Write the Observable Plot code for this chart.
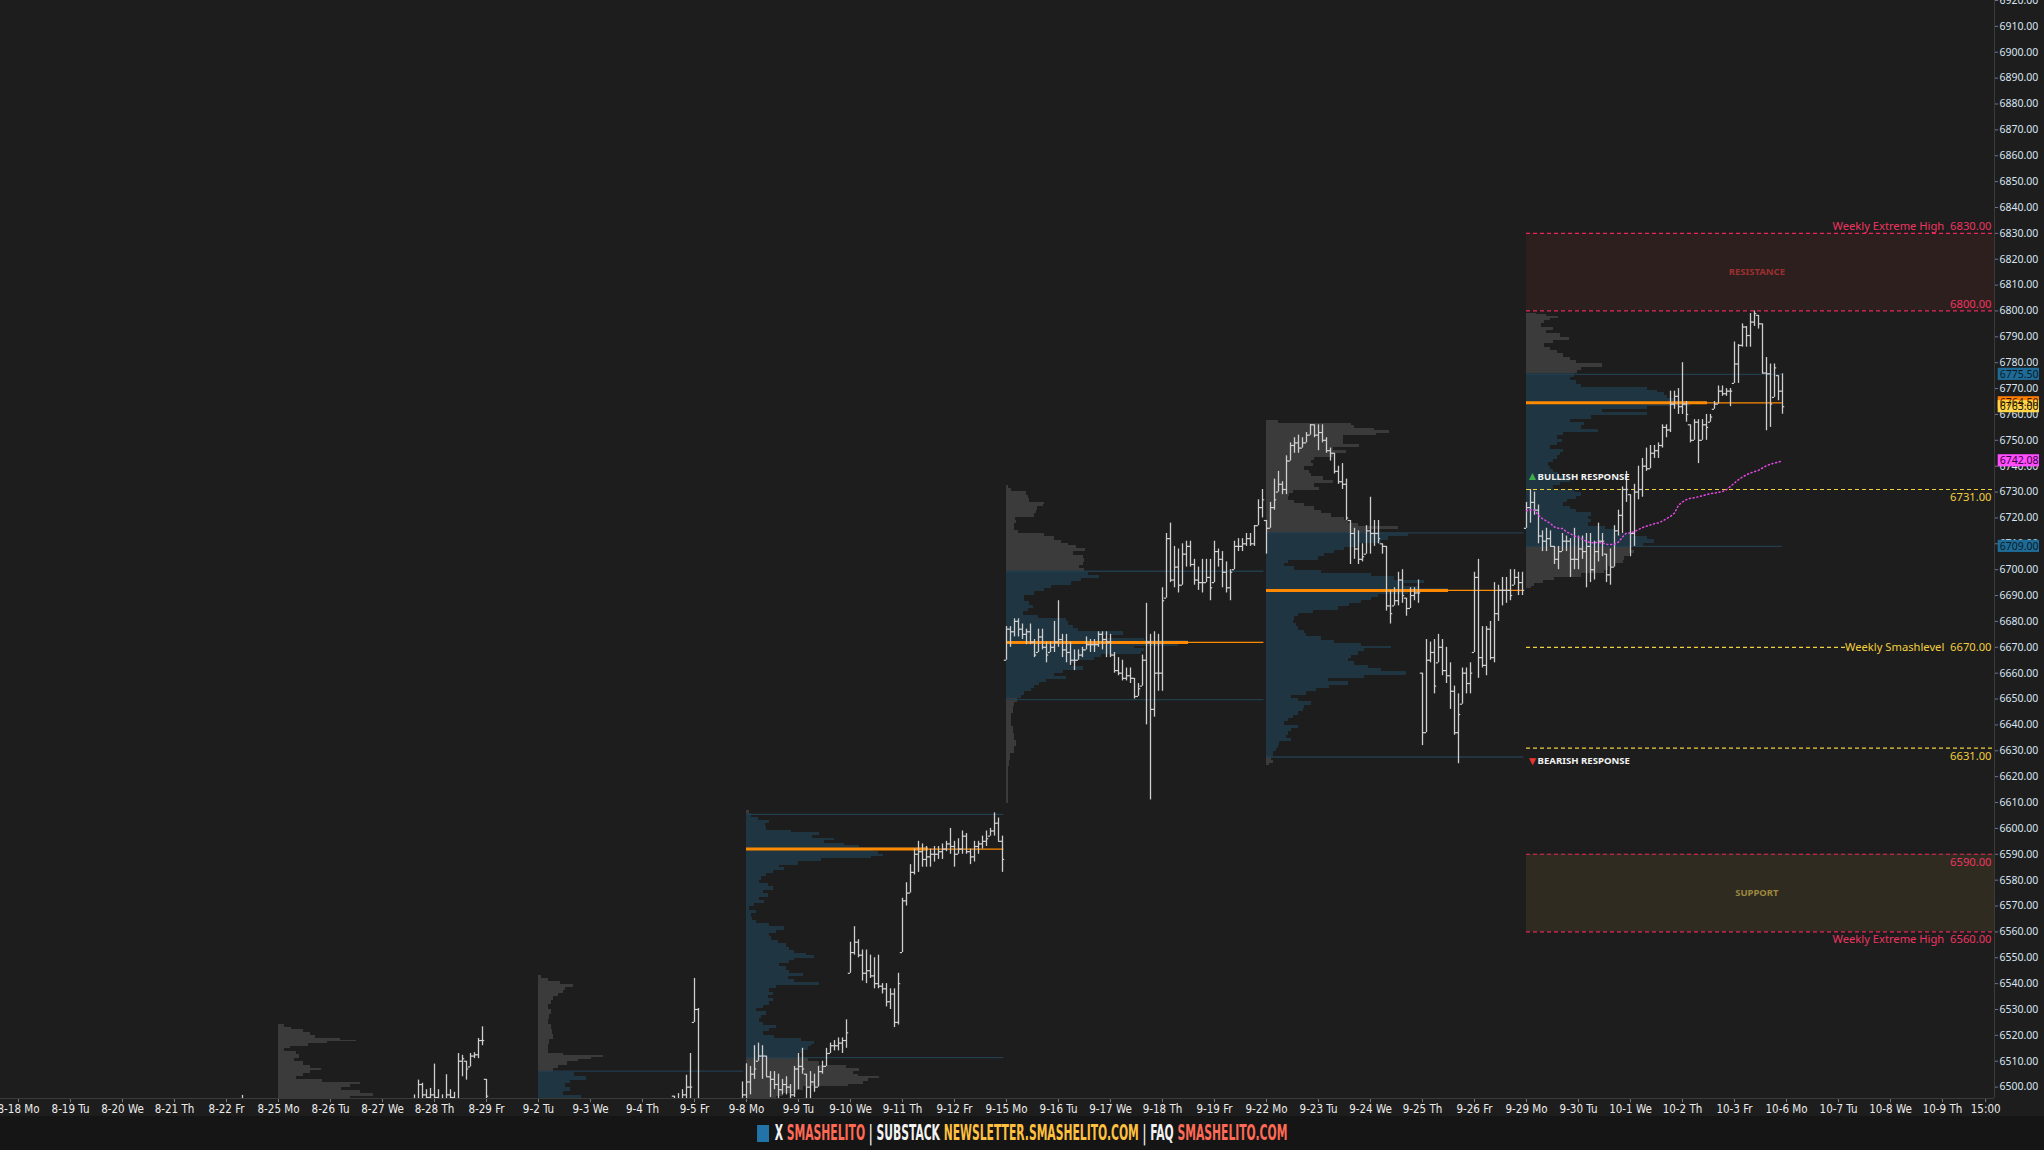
<!DOCTYPE html>
<html><head><meta charset="utf-8">
<script src="https://cdn.jsdelivr.net/npm/d3@7"></script>
<script src="https://cdn.jsdelivr.net/npm/@observablehq/plot@0.6"></script>
<style>
html,body{margin:0;padding:0;background:#1d1d1d;width:2044px;height:1150px;overflow:hidden;}
#chart svg{display:block}
#footer{height:34px;background:#151515;display:flex;align-items:center;justify-content:center;}
#footer .in{display:inline-block;transform:scaleX(0.57);transform-origin:center;white-space:nowrap;
 font-family:"DejaVu Sans Condensed","Liberation Sans Narrow","DejaVu Sans",sans-serif;font-stretch:condensed;font-weight:bold;font-size:21px;letter-spacing:0px;}
#footer .sq{display:inline-block;width:21px;height:17px;background:#2274a8;vertical-align:-2px;margin-right:10px}
#footer .w{color:#f2f2f2}#footer .r{color:#ff6a55}#footer .y{color:#ffc040}
</style></head><body>
<div id="chart"></div>
<div id="footer"><span class="in"><span class="sq"></span><span class="w">X</span> <span class="r">SMASHELITO</span> <span class="w">|</span> <span class="w">SUBSTACK</span> <span class="y">NEWSLETTER.SMASHELITO.COM</span> <span class="w">|</span> <span class="w">FAQ</span> <span class="r">SMASHELITO.COM</span></span></div>
<script>
// ---------------- DATA ----------------
const dayLabels = ["8-18 Mo","8-19 Tu","8-20 We","8-21 Th","8-22 Fr","8-25 Mo","8-26 Tu","8-27 We","8-28 Th","8-29 Fr","9-2 Tu","9-3 We","9-4 Th","9-5 Fr","9-8 Mo","9-9 Tu","9-10 We","9-11 Th","9-12 Fr","9-15 Mo","9-16 Tu","9-17 We","9-18 Th","9-19 Fr","9-22 Mo","9-23 Tu","9-24 We","9-25 Th","9-26 Fr","9-29 Mo","9-30 Tu","10-1 We","10-2 Th","10-3 Fr","10-6 Mo","10-7 Tu","10-8 We","10-9 Th"];
const lastTickLabel = "15:00";
const lastTickPos = 37.83;
const priceTicks = d3.range(6500, 6921, 10);

// early visible 30-min bars: [day, slot, high, low, close]
const barsEarly = [
 [4,4,6496.8,6488,6493],
 [7,8,6497,6488,6494],[7,9,6502.7,6490,6501],[7,10,6501.5,6492,6497],[7,11,6499,6490,6496],[7,12,6499.5,6491,6497],
 [8,0,6508.9,6489,6496],[8,1,6499,6490,6494],[8,2,6497,6489,6494],[8,3,6504.8,6490,6497],[8,4,6499,6491,6496],[8,5,6498,6490,6495],
 [8,6,6513,6492,6510],[8,7,6512.3,6504,6511],[8,8,6510,6502.7,6507],[8,9,6513,6507.8,6512],[8,10,6513.3,6511,6512.5],[8,11,6518.8,6511,6518],[8,12,6523.3,6516,6518],
 [9,0,6503,6490,6496.5],
 [12,8,6496.5,6488,6494],[12,9,6497.5,6489,6495],[12,10,6499,6490,6497],[12,11,6504.6,6491,6500],[12,12,6513,6493,6500],
 [13,0,6542,6525,6530],[13,1,6530.4,6480,6490],[13,12,6502,6490,6497]
];
// weekly bars [high, low, close], 13 per session
const barsWeek0908 = [
 [6509,6494,6502],[6508,6497,6505],[6516,6503,6507],[6517,6510,6512],[6516,6503,6512],[6512,6504,6504],[6506,6496,6503],[6506,6499,6501],[6505,6495,6499],[6503,6497,6501],[6504,6497,6500],[6501,6494,6497],[6508,6496,6507],
 [6513,6499,6508],[6515,6505,6507],[6505,6494,6500],[6506,6494,6502],[6505,6498,6500],[6508,6500,6506],[6510,6505,6508],[6515,6508,6513],[6517,6513,6516],[6518,6514,6516],[6519,6514,6517],[6519,6513,6518],[6526,6515,6521],
 [6556,6544,6552],[6562,6551,6556],[6557,6550,6551],[6553,6541,6544],[6553,6540,6545],[6551,6542,6543],[6550,6538,6540],[6551,6538,6539],[6540,6536,6538],[6540,6531,6533],[6538,6530,6536],[6538,6523,6525],[6544,6524,6540],
 [6573,6552,6572],[6579,6570,6575],[6586,6575,6583],[6592,6582,6590],[6595,6583,6591],[6594,6585,6588],[6593,6585,6589],[6592,6585,6590],[6593,6587,6590],[6593,6588,6591],[6594,6588,6592],[6595,6591,6594],[6600,6590,6593],
 [6595,6585,6590],[6596,6590,6592],[6599,6590,6597],[6598,6590,6591],[6592,6586,6589],[6595,6587,6593],[6595,6590,6594],[6597,6592,6595],[6599,6593,6596],[6600,6597,6599],[6606,6597,6602],[6604,6595,6595],[6597,6583,6588]
];
const barsWeek0915 = [
 [6678,6665,6677],[6678,6670,6676],[6681,6674,6680],[6681,6674,6677],[6679,6673,6675],[6677,6671,6676],[6679,6671,6672],[6673,6666,6667],[6677,6668,6674],[6677,6669,6670],[6672,6664,6667],[6672,6668,6670],[6680,6668,6672],
 [6688,6670,6673],[6675,6666,6669],[6675,6664,6668],[6672,6663,6665],[6669,6661,6665],[6669,6665,6667],[6670,6666,6669],[6674,6669,6671],[6673,6668,6671],[6673,6668,6671],[6676,6670,6675],[6676,6669,6673],[6676,6666,6672],
 [6675,6666,6667],[6668,6660,6661],[6666,6659,6660],[6665,6657,6658],[6662,6657,6659],[6662,6656,6658],[6658,6650,6651],[6656,6651,6654],[6667,6655,6665],[6687,6640,6672],[6675,6611,6646],[6676,6643,6660],[6675,6653,6660],
 [6693,6653,6688],[6714,6689,6712],[6718,6695,6696],[6709,6693,6701],[6708,6691,6694],[6710,6694,6706],[6711,6701,6709],[6711,6701,6702],[6704,6694,6696],[6701,6692,6695],[6704,6691,6695],[6704,6695,6697],[6704,6688,6693],
 [6711,6695,6707],[6708,6701,6704],[6707,6693,6699],[6703,6691,6693],[6700,6688,6699],[6711,6700,6709],[6712,6707,6709],[6712,6707,6710],[6714,6709,6712],[6714,6709,6710],[6717,6709,6717],[6727,6717,6724],[6731,6720,6727]
];
const barsWeek0922 = [
 [6719,6706,6716],[6726,6716,6724],[6735,6723,6727],[6738,6730,6733],[6734,6729,6731],[6744,6729,6742],[6749,6742,6748],[6751,6745,6749],[6752,6745,6747],[6751,6747,6749],[6753,6749,6752],[6756,6752,6756],[6756,6751,6752],
 [6756,6746,6753],[6756,6749,6750],[6751,6745,6746],[6747,6742,6745],[6745,6737,6738],[6740,6733,6734],[6741,6731,6733],[6735,6719,6720],[6719,6702,6714],[6716,6704,6708],[6715,6702,6704],[6710,6703,6705],[6717,6706,6715],
 [6728,6706,6714],[6719,6709,6714],[6719,6710,6712],[6710,6706,6709],[6709,6684,6686],[6692,6679,6683],[6693,6686,6688],[6699,6686,6696],[6700,6687,6690],[6689,6682,6685],[6693,6685,6690],[6693,6688,6691],[6696,6687,6691],
 [6660,6632,6637],[6673,6637,6665],[6672,6664,6668],[6673,6652,6655],[6675,6664,6670],[6673,6659,6661],[6670,6656,6659],[6664,6646,6653],[6655,6636,6637],[6652,6625,6644],[6662,6648,6660],[6662,6652,6656],[6664,6652,6660],
 [6699,6668,6697],[6704,6658,6666],[6678,6662,6663],[6678,6659,6677],[6680,6665,6666],[6695,6664,6683],[6694,6680,6692],[6697,6686,6692],[6697,6687,6692],[6700,6688,6690],[6700,6694,6697],[6699,6690,6695],[6699,6690,6692]
];
const barsWeek0929 = [
 [6726,6716,6724],[6731,6718,6726],[6730,6721,6723],[6725,6710,6713],[6715,6707,6711],[6716,6707,6712],[6715,6709,6709],[6709,6702,6704],[6709,6700,6707],[6714,6707,6711],[6713,6707,6711],[6712,6697,6704],[6716,6700,6704],
 [6713,6700,6708],[6713,6704,6707],[6714,6693,6709],[6714,6695,6700],[6711,6696,6707],[6718,6703,6711],[6714,6705,6711],[6706,6695,6698],[6708,6694,6701],[6717,6701,6715],[6723,6713,6721],[6732,6714,6731],[6738,6726,6731],
 [6729,6705,6714],[6733,6709,6730],[6740,6727,6731],[6743,6728,6740],[6747,6738,6739],[6748,6739,6745],[6748,6743,6746],[6749,6743,6748],[6756,6747,6755],[6756,6751,6754],[6769,6753,6764],[6769,6762,6767],[6770,6760,6763],
 [6780,6760,6764],[6765,6757,6760],[6756,6749,6750],[6758,6750,6757],[6758,6741,6750],[6758,6750,6756],[6760,6750,6755],[6760,6757,6759],[6765,6762,6764],[6771,6764,6769],[6771,6767,6768],[6770,6767,6769],[6770,6763,6769],
 [6788,6772,6779.5],[6787,6772,6786.7],[6795,6786,6793.8],[6794,6786,6790.5],[6799,6786,6795.7],[6800,6794,6799],[6798.3,6793,6795],[6795,6775.7,6776],[6782,6753.7,6775.7],[6779.5,6755,6764],[6779.5,6766.6,6778],[6775,6765.3,6769],[6775.7,6760.1,6763]
];
const weekStartDays = [14, 19, 24, 29];

// weekly volume profiles: [price, relative volume]
const profile0825 = [[6523.6,6],[6522.6,13],[6521.7,25],[6520.5,32],[6519.4,37],[6518.5,62],[6517.9,78],[6517.3,49],[6516.2,30],[6515.3,12],[6514.3,6],[6513.2,18],[6511.7,21],[6510.4,16],[6509.1,25],[6507.8,32],[6506.8,43],[6505.9,32],[6504.6,25],[6503.3,18],[6502.4,44],[6501.4,82],[6500.4,72],[6499.5,63],[6498.2,82],[6496.9,95],[6496.0,72],[6494.5,60]];
const profile0902 = [[6542.6,3],[6541.3,10],[6540.0,22],[6539.0,35],[6538.1,27],[6536.8,25],[6535.5,20],[6534.3,15],[6533.0,13],[6531.0,10],[6529.1,13],[6527.2,11],[6525.2,10],[6523.3,13],[6521.4,14],[6519.4,15],[6517.5,11],[6515.5,10],[6513.6,9.5],[6512.4,25],[6511.7,65],[6511.1,53],[6510.4,40],[6509.1,29],[6507.8,20],[6506.6,15],[6504.6,36],[6503.3,48],[6502.0,32],[6500.7,27],[6498.8,32],[6497.5,25],[6496.2,43],[6494.8,40]];
const profile0908 = [[6606.3,2.7],[6605.0,5],[6603.8,11.7],[6602.5,22.7],[6601.2,19.3],[6599.9,20],[6598.6,45],[6598.0,73],[6596.7,66],[6595.6,88],[6594.7,78],[6593.8,98],[6593.1,113],[6592.0,182],[6591.3,126],[6590.5,132],[6589.6,137],[6588.7,125],[6587.7,75],[6586.4,52],[6585.3,33],[6584.4,38],[6583.1,27],[6581.9,20],[6580.6,15],[6579.3,13],[6578.0,22],[6576.7,27],[6575.4,17],[6574.1,22],[6572.8,13],[6571.6,18],[6570.3,8],[6569.0,3],[6567.7,10],[6566.4,5],[6565.1,6],[6563.8,10],[6562.5,23],[6561.3,38],[6560.0,30],[6558.7,23],[6557.4,25],[6556.1,32],[6554.8,40],[6553.5,43],[6552.2,48],[6551.3,60],[6550.3,68],[6549.3,48],[6548.4,43],[6547.1,33],[6545.8,40],[6544.5,43],[6543.2,57],[6542.3,42],[6541.0,48],[6539.7,73],[6538.7,30],[6537.4,23],[6536.1,27],[6534.8,22],[6533.6,27],[6532.3,23],[6531.0,17],[6529.7,10],[6528.4,20],[6527.1,15],[6525.8,13],[6524.5,17],[6523.3,30],[6522.0,23],[6520.7,17],[6519.4,28],[6518.1,55],[6517.1,68],[6516.2,65],[6514.9,62],[6513.6,57],[6512.3,52],[6510.4,62],[6509.1,73],[6507.8,100],[6506.5,113],[6505.5,107],[6504.6,112],[6503.7,133],[6502.7,122],[6501.6,117],[6500.7,102],[6499.4,57],[6498.1,50],[6496.8,37],[6495.6,30]];
const profile0915 = [[6732.0,1.7],[6730.7,5],[6729.4,20],[6728.1,22],[6726.8,23],[6725.5,38],[6724.9,37],[6723.6,31],[6722.3,30],[6721.0,28],[6719.7,9],[6718.4,10],[6717.1,8],[6715.9,8],[6714.6,12],[6713.3,38],[6712.0,48],[6710.7,55],[6709.8,62],[6708.8,70],[6707.5,79],[6706.2,67],[6704.9,77],[6703.6,78],[6702.3,77],[6701.0,73],[6699.8,78],[6698.5,82],[6697.2,93],[6695.9,75],[6694.6,65],[6693.3,45],[6692.0,38],[6690.8,28],[6689.5,18],[6688.2,18],[6686.9,23],[6685.6,27],[6684.3,22],[6683.0,17],[6681.7,32],[6680.4,60],[6679.2,62],[6677.9,67],[6676.6,72],[6675.3,117],[6674.0,97],[6673.0,138],[6671.9,182],[6670.9,172],[6669.9,128],[6668.8,138],[6667.8,135],[6666.8,95],[6665.6,88],[6664.3,70],[6663.1,65],[6661.8,77],[6660.5,57],[6659.2,48],[6657.9,60],[6657.0,40],[6656.0,33],[6654.7,28],[6653.4,25],[6652.1,18],[6650.8,15],[6649.5,11],[6648.2,8],[6645.7,7],[6643.1,5],[6640.5,5],[6637.9,7],[6635.4,8],[6632.8,10],[6630.2,8],[6627.6,4],[6625.1,3],[6622.5,2],[6617.3,2],[6612.2,2]];
const profile0922 = [[6757.1,12],[6756.2,85],[6755.2,88],[6754.1,108],[6753.2,123],[6752.3,110],[6751.3,77],[6750.0,77],[6748.7,77],[6747.7,93],[6746.4,67],[6745.5,80],[6744.2,67],[6742.9,48],[6741.6,45],[6740.3,47],[6739.1,38],[6737.8,43],[6736.5,45],[6735.2,57],[6733.9,67],[6732.6,48],[6731.3,53],[6730.0,27],[6728.8,23],[6727.5,22],[6726.2,28],[6724.9,38],[6723.6,48],[6722.3,55],[6721.0,65],[6719.7,78],[6718.5,82],[6717.2,92],[6715.9,132],[6715.0,102],[6713.3,142],[6712.0,122],[6710.7,115],[6709.4,92],[6708.1,78],[6706.9,68],[6705.6,58],[6704.3,52],[6703.0,22],[6701.7,18],[6700.4,28],[6699.1,55],[6697.8,105],[6696.6,128],[6695.3,158],[6694.0,138],[6693.1,152],[6692.0,182],[6691.0,142],[6690.0,112],[6688.8,105],[6687.5,95],[6686.3,83],[6685.0,72],[6683.7,47],[6682.4,32],[6681.1,28],[6679.8,27],[6678.5,30],[6677.2,32],[6675.9,38],[6674.7,40],[6673.4,55],[6672.1,68],[6670.8,95],[6669.9,125],[6668.9,98],[6667.6,92],[6666.3,85],[6665.0,82],[6663.7,88],[6662.4,102],[6661.1,115],[6659.9,140],[6658.6,98],[6657.3,62],[6656.0,82],[6654.7,63],[6653.4,50],[6652.1,40],[6650.8,25],[6649.5,32],[6648.3,45],[6647.0,38],[6645.7,37],[6644.4,32],[6643.1,27],[6641.8,22],[6640.5,18],[6639.2,32],[6638.0,25],[6636.7,22],[6635.4,20],[6634.1,25],[6632.8,13],[6631.5,12],[6630.2,10],[6628.9,7],[6627.0,5],[6625.7,7],[6624.8,3]];
const profile0929 = [[6798.9,10],[6798.3,20],[6797.7,32],[6796.6,24],[6795.7,18],[6794.4,15],[6793.1,27],[6791.8,20],[6790.5,34],[6789.2,43],[6787.9,27],[6786.7,18],[6785.4,24],[6784.1,31],[6782.8,37],[6781.5,44],[6780.2,50],[6778.9,76],[6777.6,55],[6776.3,51],[6775.0,48],[6773.7,44],[6772.4,50],[6771.1,55],[6769.8,121],[6768.9,131],[6767.9,138],[6766.6,141],[6765.5,150],[6764.5,181],[6763.4,164],[6762.5,121],[6761.4,76],[6760.1,121],[6758.8,65],[6757.5,44],[6756.2,58],[6755.0,55],[6753.7,72],[6752.4,37],[6751.1,31],[6749.8,36],[6748.5,31],[6747.2,24],[6745.9,37],[6744.6,34],[6743.3,31],[6742.0,27],[6740.7,22],[6739.4,24],[6738.1,27],[6736.8,32],[6735.5,48],[6734.2,44],[6733.0,34],[6731.7,27],[6730.4,48],[6729.1,55],[6727.8,50],[6726.5,41],[6725.2,37],[6723.9,44],[6722.6,50],[6721.3,65],[6720.0,62],[6718.7,65],[6717.4,62],[6716.1,79],[6714.8,89],[6713.5,107],[6712.2,121],[6710.9,128],[6709.6,117],[6708.1,105],[6706.8,108],[6705.6,103],[6704.3,98],[6703.0,97],[6701.7,88],[6700.4,82],[6699.1,78],[6697.8,55],[6696.5,28],[6695.3,17],[6694.0,8],[6693.1,5]];
const profileStartDays = [5, 10, 14, 19, 24, 29];
const profileEndDays = [9.95, 13.95, 18.95, 23.95, 28.95, 33.92];
const valueAreaHigh = [null, 6506.2, 6605.4, 6699.4, 6714.2, 6775.5];
const valueAreaLow = [null, null, 6511.4, 6649.8, 6627.6, 6709.0];
const pointOfControl = [null, null, 6592.0, 6671.9, 6692.0, 6764.5];

// weekly VWAP of the current week (one value per bar)
const vwapWeek0929 = [6722.7,6723.2,6723.0,6721.0,6719.7,6718.8,6717.8,6716.5,6716.0,6715.9,6714.6,6713.9,6713.0,
 6712.6,6711.7,6711.0,6710.4,6710.4,6710.6,6710.3,6709.8,6709.7,6709.8,6710.7,6712.6,6714.2,
 6714.2,6714.7,6715.5,6716.3,6716.8,6717.3,6717.8,6718.1,6718.8,6719.7,6720.6,6721.9,6724.9,
 6726.2,6727.1,6727.6,6727.8,6728.2,6728.6,6729.0,6729.4,6729.6,6729.9,6730.2,6730.9,6732.2,
 6733.5,6734.8,6735.8,6736.7,6737.4,6737.9,6738.4,6739.3,6740.2,6740.8,6741.2,6741.6,6742.1];

// weekly levels
const levelPrices = [6830, 6800, 6731, 6670, 6631, 6590, 6560];
const levelNames = ["Weekly Extreme High", "", "", "Weekly Smashlevel", "", "", "Weekly Extreme High"];
const levelKinds = ["extreme", "extreme", "response", "smash", "response", "extreme", "extreme"];
const levelLabelSide = ["above", "above", "below", "center", "below", "below", "below"];
const zoneNames = ["RESISTANCE", "SUPPORT"];
const zoneLow = [6800, 6560];
const zoneHigh = [6830, 6590];
const levelsStartDay = 29;
const responseNames = ["BULLISH RESPONSE", "BEARISH RESPONSE"];
const responsePrices = [6736, 6626];

// price tags on the right axis
const tagPrices = [6775.5, 6764.5, 6763.0, 6742.08, 6709.0];
const tagKinds = ["va", "poc", "last", "vwap", "va"];

// ---------------- BUILD ----------------
const W = 2044, H = 1116;
const xMin = -18/52, xMax = 1976/52;
const yMin = 6495.6, yMax = 6920;
const pxDay = 52;

const C = {
  bg: "#1d1d1d", bar: "#cfcfcf", gray: "#3b3b3b", blue: "#1f3541", vaLine: "#223d4e",
  poc: "#ff8a00", red: "#e8265a", yellow: "#f0d03c", axis: "#d9e5f1", sep: "#3a3a3a"
};

let bars = [];
barsEarly.forEach(r => bars.push({t: r[0] + r[1]/13, h: r[2], l: r[3], c: r[4]}));
[barsWeek0908, barsWeek0915, barsWeek0922, barsWeek0929].forEach((rows, w) => {
  rows.forEach((r, i) => bars.push({t: weekStartDays[w] + Math.floor(i/13) + (i%13)/13, h: r[0], l: r[1], c: r[2]}));
});
bars.sort((a, b) => a.t - b.t);
bars.forEach((b, i) => {
  const prev = i > 0 ? bars[i-1].c : b.c;
  b.o = Math.min(b.h, Math.max(b.l, prev));
});
bars = bars.filter(b => b.h > yMin);
bars.forEach(b => { b.lc = Math.max(b.l, yMin); });

const profiles = [profile0825, profile0902, profile0908, profile0915, profile0922, profile0929];
let profRects = [], pocs = [], vaLines = [];
profiles.forEach((rows, w) => {
  const s = rows.slice().sort((a, b) => b[0] - a[0]);
  const start = profileStartDays[w];
  const vah = valueAreaHigh[w] == null ? -Infinity : valueAreaHigh[w];
  const val = valueAreaLow[w] == null ? -Infinity : valueAreaLow[w];
  s.forEach((r, i) => {
    const up = i > 0 ? (s[i-1][0] + r[0]) / 2 : r[0] + (r[0] - s[i+1][0]) / 2;
    const dn = i < s.length - 1 ? (r[0] + s[i+1][0]) / 2 : r[0] - (s[i-1][0] - r[0]) / 2;
    if (up <= yMin) return;
    profRects.push({x1: start, x2: start + r[1] / pxDay, y1: Math.max(dn, yMin), y2: up,
      inVA: valueAreaHigh[w] != null && r[0] <= vah + 0.01 && r[0] >= val});
  });
  if (valueAreaHigh[w] != null) vaLines.push({y: valueAreaHigh[w], x1: start, x2: profileEndDays[w]});
  if (valueAreaLow[w] != null) vaLines.push({y: valueAreaLow[w], x1: start, x2: profileEndDays[w]});
  if (pointOfControl[w] != null) {
    const pv = d3.max(s, r => r[1]);
    pocs.push({y: pointOfControl[w], x1: start, x2: start + pv / pxDay, xe: profileEndDays[w]});
  }
});

const vwap = vwapWeek0929.map((v, i) => ({t: 29 + Math.floor(i/13) + (i%13)/13, v}));

const levels = levelPrices.map((p, i) => ({p, name: levelNames[i], kind: levelKinds[i], side: levelLabelSide[i]}));
const lvlColor = k => (k === "extreme" ? C.red : C.yellow);
const lvlText = k => (k === "extreme" ? "#ee3560" : "#f2cf3e");
const lvlLabel = d => (d.name ? d.name + "  " : "") + d.p.toFixed(2);
const lvlEnd = d => (d.kind === "smash" ? xMax - 146/pxDay : xMax);
const lvlFont = 11.2;
function levelText(side, dy) {
  return Plot.text(levels.filter(d => d.side === side), {x: xMax, y: "p", text: lvlLabel, dy, dx: -3, textAnchor: "end",
    fill: d => lvlText(d.kind), fontSize: lvlFont});
}

const zones = zoneNames.map((n, i) => ({n, lo: zoneLow[i], hi: zoneHigh[i]}));

const tagBg = {va: "#1e6b98", poc: "#ff8000", last: "#ffd54a", vwap: "#ff4dff"};
const tagFg = {va: "#0a1b26", poc: "#3a1800", last: "#1a1400", vwap: "#3b0040"};
const tags = tagPrices.map((p, i) => ({p, k: tagKinds[i]}));
const tagX1 = xMax + 3.7/pxDay, tagX2 = xMax + 45/pxDay;

const xTicks = dayLabels.map((d, i) => i).concat([lastTickPos]);
const xFmt = v => (v === lastTickPos ? lastTickLabel : dayLabels[v]);

const font = "'Noto Sans','Open Sans',sans-serif";

const chart = Plot.plot({
  width: W, height: H,
  marginLeft: 0, marginRight: 50, marginTop: 0, marginBottom: 18,
  style: {background: C.bg, color: C.axis, fontFamily: font, fontSize: "10.5px"},
  x: {domain: [xMin, xMax], ticks: xTicks, tickFormat: xFmt, tickSize: 4, tickPadding: 2, label: null, axis: "bottom"},
  y: {domain: [yMin, yMax], ticks: priceTicks, tickFormat: d => d.toFixed(2), tickSize: 3, tickPadding: 2, label: null, axis: "right"},
  marks: [
    // zones
    Plot.rect(zones, {x1: levelsStartDay, x2: xMax, y1: "lo", y2: "hi", fill: (d, i) => i === 0 ? "#2e1f1f" : "#2f2b20"}),
    Plot.text(zones, {x: (levelsStartDay + xMax) / 2 - 0.07, y: d => (d.lo + d.hi) / 2, text: "n",
      fill: (d, i) => i === 0 ? "#9c3030" : "#9c873e", fontSize: 9.5, fontWeight: "bold"}),
    // volume profiles
    Plot.rect(profRects, {x1: "x1", x2: "x2", y1: "y1", y2: "y2", fill: d => d.inVA ? C.blue : C.gray, shapeRendering: "crispEdges"}),
    Plot.ruleY(vaLines, {y: "y", x1: "x1", x2: "x2", stroke: C.vaLine, strokeWidth: 1.3}),
    Plot.ruleY(pocs, {y: "y", x1: "x1", x2: "xe", stroke: C.poc, strokeWidth: 1.3}),
    Plot.ruleY(pocs, {y: "y", x1: "x1", x2: "x2", stroke: C.poc, strokeWidth: 3}),
    // levels
    Plot.ruleY(levels, {y: "p", x1: levelsStartDay, x2: lvlEnd, stroke: d => lvlColor(d.kind), strokeWidth: 1.2, strokeDasharray: "4,3"}),
    levelText("above", -7),
    levelText("below", 8),
    levelText("center", 0),
    // bars
    Plot.ruleX(bars, {x: "t", y1: "lc", y2: "h", stroke: C.bar, strokeWidth: 1.3, clip: true}),
    Plot.ruleY(bars.filter(b => b.o > yMin), {y: "o", x1: d => d.t - 2.2/pxDay, x2: "t", stroke: C.bar, strokeWidth: 1.2}),
    Plot.ruleY(bars.filter(b => b.c > yMin), {y: "c", x1: "t", x2: d => d.t + 2.2/pxDay, stroke: C.bar, strokeWidth: 1.2}),
    // vwap
    Plot.line(vwap, {x: "t", y: "v", stroke: "#e847e8", strokeWidth: 1.5, strokeDasharray: "1,2.8"}),
    // responses
    Plot.text([0], {x: levelsStartDay, y: responsePrices[0], text: ["▲"], fill: "#3fae48", textAnchor: "start", fontSize: 12, dx: 0}),
    Plot.text([0], {x: levelsStartDay, y: responsePrices[0], text: [responseNames[0]], fill: "#f2f2f2", textAnchor: "start", fontSize: 9.6, fontWeight: "bold", dx: 11}),
    Plot.text([0], {x: levelsStartDay, y: responsePrices[1], text: ["▼"], fill: "#e8362e", textAnchor: "start", fontSize: 12, dx: 0}),
    Plot.text([0], {x: levelsStartDay, y: responsePrices[1], text: [responseNames[1]], fill: "#f2f2f2", textAnchor: "start", fontSize: 9.6, fontWeight: "bold", dx: 11}),
    // frame separators
    Plot.ruleX([xMax], {stroke: C.sep, strokeWidth: 1}),
    Plot.ruleY([yMin], {stroke: C.sep, strokeWidth: 1}),
    // tags
    Plot.rect(tags, {x1: tagX1, x2: tagX2, y1: d => d.p - 2.35, y2: d => d.p + 2.35, fill: d => tagBg[d.k]}),
    Plot.text(tags, {x: tagX1, y: "p", text: d => d.p.toFixed(2), dx: 1.5, textAnchor: "start", fill: d => tagFg[d.k], fontSize: 10.5})
  ]
});
document.getElementById("chart").appendChild(chart);
const svg = d3.select(chart);
svg.selectAll('g[aria-label^="x-axis"] text').attr("font-family", "'DejaVu Sans Condensed','Liberation Sans Narrow',sans-serif").attr("font-size", 11.5).attr("fill", "#ececec");
svg.selectAll('g[aria-label^="x-axis"] line, g[aria-label^="x-axis"] path').attr("stroke", "#777");
svg.selectAll('g[aria-label^="y-axis"] line, g[aria-label^="y-axis"] path').attr("stroke", "#777");
</script>
</body></html>
